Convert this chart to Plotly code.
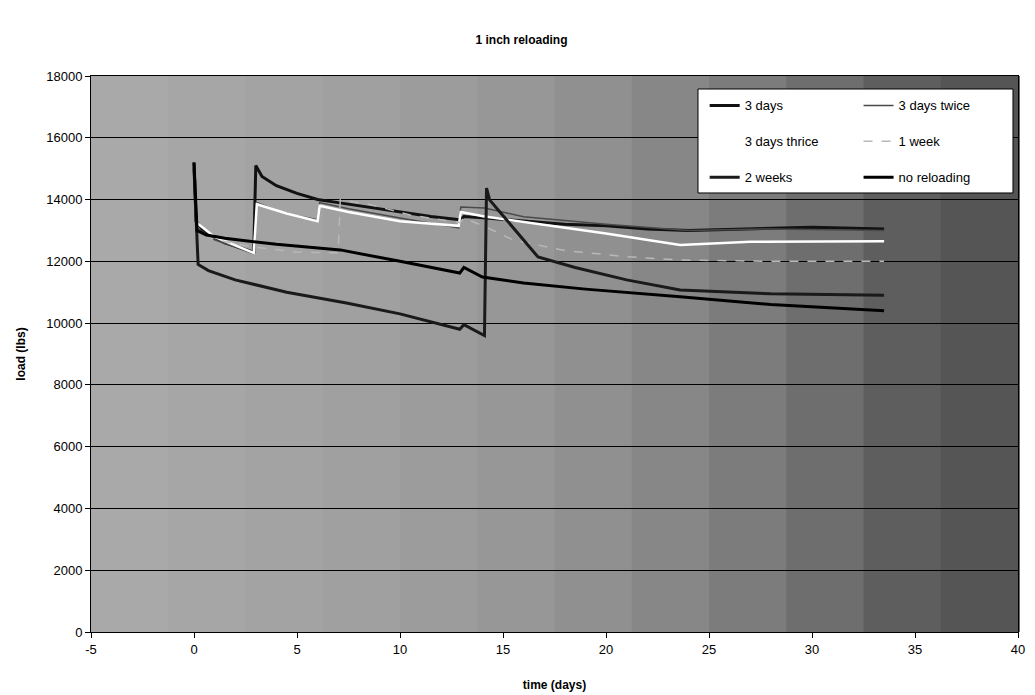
import plotly.graph_objects as go

# ---------------- data ----------------
t_3days = [0, 0.1, 0.5, 1.5, 2.9, 3.0, 3.3, 4.0, 5.0, 6.0, 7.0, 8.5, 10.0, 11.5, 12.9, 13.1,
           14.2, 16.0, 18.0, 20.0, 22.0, 24.0, 27.0, 30.0, 33.5]
l_3days = [15200, 13300, 12950, 12600, 12300, 15100, 14750, 14450, 14200, 14000, 13900, 13750,
           13600, 13450, 13350, 13450, 13400, 13300, 13200, 13150, 13050, 13000, 13050, 13100, 13050]

t_3twice = [0, 0.1, 1.0, 2.9, 3.05, 4.0, 5.0, 6.0, 6.1, 7.5, 10.0, 12.85, 12.95, 14.1, 16.0,
            20.0, 24.0, 28.0, 33.5]
l_3twice = [15000, 13100, 12700, 12250, 13900, 13650, 13480, 13350, 13900, 13700, 13400, 13080,
            13760, 13730, 13440, 13200, 13000, 13050, 13000]

t_3thrice = [0, 0.15, 1.0, 2.9, 3.05, 4.5, 6.0, 6.1, 7.5, 10.0, 12.85, 12.95, 14.1, 16.0,
             20.0, 23.6, 27.0, 33.5]
l_3thrice = [15000, 13240, 12790, 12270, 13850, 13550, 13300, 13800, 13600, 13300, 13150, 13600,
             13450, 13270, 12900, 12530, 12630, 12650]

t_1week = [0, 0.1, 1.0, 3.0, 5.0, 7.0, 7.1, 8.5, 10.5, 12.9, 13.1, 14.2, 15.5, 18.0, 21.0,
           23.6, 28.0, 33.5]
l_1week = [15000, 13000, 12700, 12450, 12300, 12270, 13990, 13850, 13500, 13250, 13400, 13100,
           12690, 12350, 12150, 12040, 12000, 12000]

t_2weeks = [0, 0.2, 0.7, 2.0, 4.5, 7.4, 10.0, 12.9, 13.1, 14.1, 14.2, 14.35, 16.7, 18.5, 21.0,
            23.6, 28.0, 33.5]
l_2weeks = [15000, 11900, 11700, 11400, 11000, 10650, 10300, 9800, 9950, 9600, 14370, 13990,
            12140, 11800, 11400, 11070, 10950, 10900]

t_norel = [0, 0.15, 0.6, 1.5, 4.0, 7.1, 10.0, 12.9, 13.1, 14.0, 16.0, 19.0, 23.6, 28.0, 33.5]
l_norel = [15200, 13000, 12850, 12750, 12550, 12370, 12000, 11620, 11800, 11490, 11300, 11100,
           10850, 10600, 10400]

x_ticks = [-5, 0, 5, 10, 15, 20, 25, 30, 35, 40]
y_ticks = [0, 2000, 4000, 6000, 8000, 10000, 12000, 14000, 16000, 18000]

# (name, t, load, line style, legend column)
series = [
    ("3 days", t_3days, l_3days, dict(color="#111111", width=3), "legend"),
    ("3 days twice", t_3twice, l_3twice, dict(color="#4a4a4a", width=1.5), "legend2"),
    ("3 days thrice", t_3thrice, l_3thrice, dict(color="#ffffff", width=2.5), "legend"),
    ("1 week", t_1week, l_1week, dict(color="#b8b8b8", width=1.5, dash="dash"), "legend2"),
    ("2 weeks", t_2weeks, l_2weeks, dict(color="#1a1a1a", width=3), "legend"),
    ("no reloading", t_norel, l_norel, dict(color="#000000", width=3), "legend2"),
]

FONT = "Liberation Sans, Arial, sans-serif"

fig = go.Figure()
for name, t, l, ln, lg in series:
    fig.add_trace(go.Scatter(x=t, y=l, mode="lines", name=name, line=ln,
                             legend=lg, legendgroup=name))

# scanned-paper background: grey strips darkening to the right
greys = ["#a9a9a9", "#a6a6a6", "#a3a3a3", "#a0a0a0", "#9c9c9c", "#979797", "#909090",
         "#878787", "#7c7c7c", "#6e6e6e", "#5e5e5e", "#555555"]
n = len(greys)
shapes = []
for i, g in enumerate(greys):
    shapes.append(dict(type="rect", xref="x domain", yref="y domain",
                       x0=i / n, x1=(i + 1) / n + 0.002, y0=0, y1=1,
                       fillcolor=g, line=dict(width=0), layer="below"))
# legend box
shapes.append(dict(type="rect", xref="x domain", yref="y domain",
                   x0=0.6548, x1=0.9946, y0=0.7896, y1=0.9766,
                   fillcolor="white", line=dict(color="black", width=1), layer="above"))

leg_common = dict(orientation="v", xanchor="left", yanchor="top", bgcolor="rgba(0,0,0,0)",
                  borderwidth=0, font=dict(family=FONT, size=13), tracegroupgap=16,
                  itemclick=False)

fig.update_layout(
    width=1027, height=687,
    margin=dict(l=83, r=17, t=68, b=63),
    paper_bgcolor="white",
    plot_bgcolor="#a0a0a0",
    shapes=shapes,
    font=dict(family=FONT, size=13, color="black"),
    title=dict(text="<b>1 inch reloading</b>", x=0.5, xanchor="center", y=0.953,
               yanchor="middle", font=dict(family=FONT, size=12)),
    xaxis=dict(range=[-5, 40], tickmode="array", tickvals=x_ticks,
               ticktext=[str(v) for v in x_ticks], showgrid=False, zeroline=False,
               ticks="outside", ticklen=5, tickcolor="black", showline=True,
               linecolor="black", linewidth=1, mirror=True, automargin=False,
               title=dict(text="<b>time (days)</b>", font=dict(family=FONT, size=12),
                          standoff=25)),
    yaxis=dict(range=[0, 18000], tickmode="array", tickvals=y_ticks,
               ticktext=[str(v) for v in y_ticks], showgrid=True, gridcolor="black",
               gridwidth=1, zeroline=False, ticks="outside", ticklen=5, tickcolor="black",
               showline=True, linecolor="black", linewidth=1, mirror=True, automargin=False,
               title=dict(text="<b>load (lbs)</b>", font=dict(family=FONT, size=12),
                          standoff=18)),
    legend=dict(x=0.662, y=0.974, **leg_common),
    legend2=dict(x=0.828, y=0.974, **leg_common),
    showlegend=True,
)

fig.write_html("out.html")
